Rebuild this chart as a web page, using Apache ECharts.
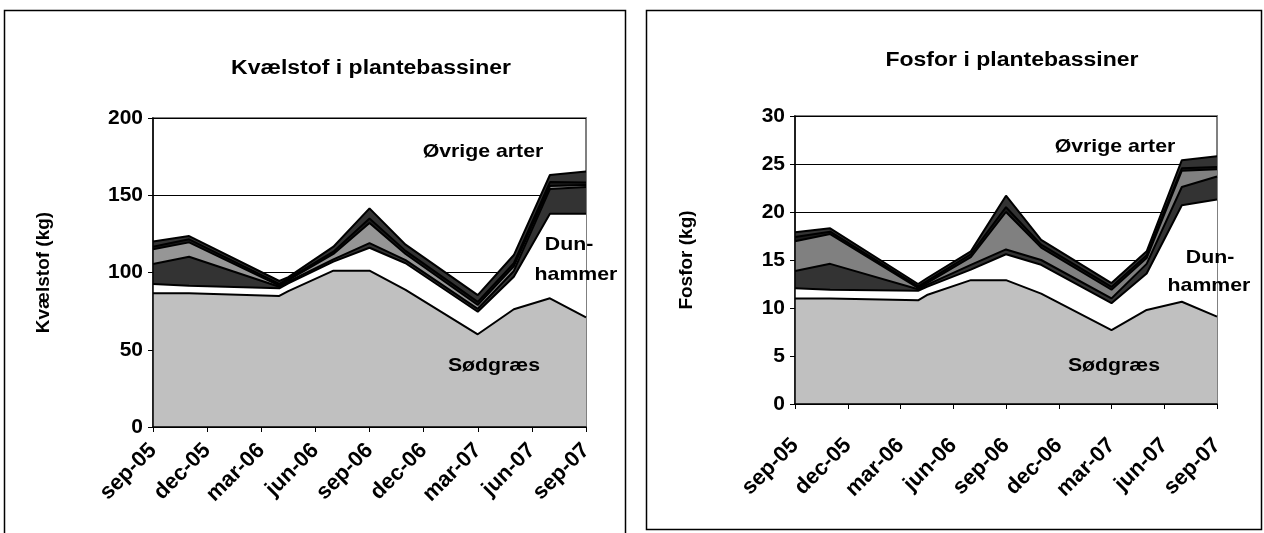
<!DOCTYPE html>
<html>
<head>
<meta charset="utf-8">
<script src="https://cdn.jsdelivr.net/npm/echarts@6/dist/echarts.min.js"></script>
<style>
  html, body { margin: 0; padding: 0; background: #fff; }
  #chart { width: 1264px; height: 533px; }
</style>
</head>
<body>
<div id="chart"></div>
<script>
// months after sep-05 for each measurement
const months = [0, 2, 7, 7.5, 10, 12, 14, 18, 20, 22, 24];
const tickLabels = ["sep-05", "dec-05", "mar-06", "jun-06", "sep-06", "dec-06", "mar-07", "jun-07", "sep-07"];

// Kvælstof (kg)
const nSodgraes = [86.5, 86.5, 84.8, 88, 101.2, 101.2, 88.7, 60, 76.2, 83.3, 71];
const nDunhammer = [6.1, 5, 5, 5, 5.8, 14.8, 17.3, 14.6, 21.1, 54.7, 67];
const nArt3 = [12.9, 18.7, 1, 1, 1.5, 3, 2, 1.9, 3.7, 16, 17.3];
const nArt4 = [9.5, 9.3, 0.7, 1, 3.5, 13, 4, 2.5, 3, 2, 1.3];
const nArt5 = [1.7, 2, 1.1, 1, 1.5, 3, 2, 2, 2, 2.5, 1.7];
const nArt6 = [3.3, 2.1, 1.9, 1, 3.2, 6.5, 4, 4.4, 5.3, 4.6, 7];

// Fosfor (kg)
const pSodgraes = [11.0, 11.0, 10.8, 11.35, 12.9, 12.9, 11.5, 7.7, 9.8, 10.65, 9.1];
const pDunhammer = [1.05, 0.9, 1.0, 0.85, 1.1, 2.7, 3.0, 2.8, 3.8, 10.05, 12.2];
const pArt3 = [1.8, 2.7, 0.15, 0.2, 0.5, 0.5, 0.5, 0.5, 1.0, 1.9, 2.4];
const pArt4 = [3.1, 3.1, 0.15, 0.2, 0.8, 3.9, 1.3, 0.9, 0.6, 1.7, 0.75];
const pArt5 = [0.45, 0.25, 0.15, 0.2, 0.3, 0.5, 0.3, 0.3, 0.3, 0.25, 0.25];
const pArt6 = [0.5, 0.35, 0.25, 0.3, 0.3, 1.2, 0.5, 0.4, 0.4, 0.85, 1.1];

const font = '"Liberation Sans", Arial, sans-serif';

// stacked areas: each layer is drawn from 0 up to its running total,
// lower layers on top so they hide the part below
function stackedSeries(layers, idx) {
  const out = [];
  let run = months.map(() => 0);
  layers.forEach((l, k) => {
    run = run.map((r, i) => r + l.vals[i]);
    out.push({
      name: l.name,
      type: "line",
      xAxisIndex: idx,
      yAxisIndex: idx,
      symbol: "none",
      z: 20 - k,
      lineStyle: { color: "#000", width: 2 },
      areaStyle: { color: l.color, opacity: 1 },
      data: run.map((v, i) => [months[i], +v.toFixed(2)]),
    });
  });
  return out;
}

function xAxis(idx, margin) {
  return {
    gridIndex: idx,
    type: "value",
    position: "bottom",
    min: 0,
    max: 24,
    interval: 3,
    z: 30,
    axisLine: { show: true, lineStyle: { color: "#000", width: 1.5 } },
    axisTick: { show: true, length: 5, lineStyle: { color: "#000" } },
    minorTick: { show: false },
    splitLine: { show: false },
    axisLabel: {
      rotate: 45,
      margin: margin,
      color: "#000",
      fontSize: 22,
      fontWeight: "bold",
      fontFamily: font,
      formatter: (v) => tickLabels[Math.round(v / 3)],
    },
  };
}

// grid lines only, kept under the areas
function gridLines(idx, max, interval) {
  return {
    gridIndex: idx,
    type: "value",
    position: "left",
    min: 0,
    max: max,
    interval: interval,
    z: 1,
    axisLine: { show: false },
    axisTick: { show: false },
    axisLabel: { show: false },
    splitLine: { show: true, lineStyle: { color: "#000", width: 1 } },
  };
}

function yAxis(idx, max, interval, name, gap) {
  return {
    gridIndex: idx,
    type: "value",
    position: "left",
    offset: 0,
    min: 0,
    max: max,
    interval: interval,
    z: 30,
    name: name,
    nameLocation: "middle",
    nameGap: gap,
    nameTextStyle: { color: "#000", fontSize: 19, fontWeight: "bold", fontFamily: font },
    axisLine: { show: true, onZero: false, lineStyle: { color: "#000", width: 1.5 } },
    axisTick: { show: true, length: 5, lineStyle: { color: "#000" } },
    splitLine: { show: false },
    axisLabel: { margin: 10, color: "#000", fontSize: 21, fontWeight: "bold", fontFamily: font },
  };
}

function label(text, x, y, size) {
  return {
    type: "text",
    x: x,
    y: y,
    scaleX: 1.15,
    z: 100,
    style: {
      text: text,
      fill: "#000",
      font: "bold " + size + "px " + font,
      align: "center",
      verticalAlign: "middle",
    },
  };
}

const chart = echarts.init(document.getElementById("chart"));

const option = {
  animation: false,
  backgroundColor: "#fff",
  grid: [
    { left: 153, top: 118, width: 433, height: 309, show: true, borderColor: "#808080", borderWidth: 2 },
    { left: 795, top: 116, width: 422, height: 288, show: true, borderColor: "#808080", borderWidth: 2 },
  ],
  xAxis: [xAxis(0, 20), xAxis(1, 38)],
  yAxis: [
    gridLines(0, 200, 50),
    gridLines(1, 30, 5),
    yAxis(0, 200, 50, "Kvælstof (kg)", 100),
    yAxis(1, 30, 5, "Fosfor (kg)", 99),
  ],
  series: [
    ...stackedSeries([
      { name: "Sødgræs", vals: nSodgraes, color: "#c0c0c0" },
      { name: "Dunhammer", vals: nDunhammer, color: "#ffffff" },
      { name: "Art 3", vals: nArt3, color: "#333333" },
      { name: "Art 4", vals: nArt4, color: "#969696" },
      { name: "Art 5", vals: nArt5, color: "#1a1a1a" },
      { name: "Art 6", vals: nArt6, color: "#333333" },
    ], 0),
    ...stackedSeries([
      { name: "Sødgræs", vals: pSodgraes, color: "#c0c0c0" },
      { name: "Dunhammer", vals: pDunhammer, color: "#ffffff" },
      { name: "Art 3", vals: pArt3, color: "#333333" },
      { name: "Art 4", vals: pArt4, color: "#808080" },
      { name: "Art 5", vals: pArt5, color: "#1a1a1a" },
      { name: "Art 6", vals: pArt6, color: "#333333" },
    ], 1),
  ],
  graphic: [
    { type: "rect", shape: { x: 4.5, y: 10.5, width: 621, height: 540 }, style: { fill: null, stroke: "#000", lineWidth: 1.5 }, z: 100 },
    { type: "rect", shape: { x: 646.5, y: 10.5, width: 615, height: 519 }, style: { fill: null, stroke: "#000", lineWidth: 1.5 }, z: 100 },
    label("Kvælstof i plantebassiner", 371, 68, 20),
    label("Fosfor i plantebassiner", 1012, 60, 20),
    label("Øvrige arter", 483, 152, 18.5),
    label("Dun-", 569, 245, 18.5),
    label("hammer", 576, 275, 18.5),
    label("Sødgræs", 494, 366, 18.5),
    label("Øvrige arter", 1115, 147, 18.5),
    label("Dun-", 1210, 258, 18.5),
    label("hammer", 1209, 286, 18.5),
    label("Sødgræs", 1114, 366, 18.5),
  ],
};

chart.setOption(option);
</script>
</body>
</html>
